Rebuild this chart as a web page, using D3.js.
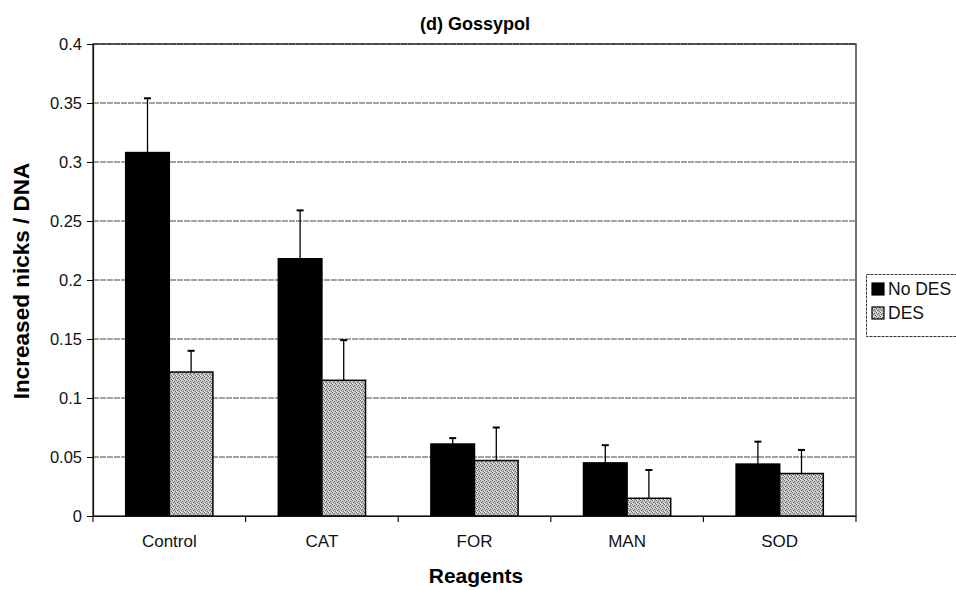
<!DOCTYPE html>
<html><head><meta charset="utf-8">
<script src="https://cdn.jsdelivr.net/npm/d3@7"></script>
<style>body{margin:0;background:#fff}svg{display:block}text{font-family:"Liberation Sans",Arial,sans-serif}</style>
</head><body><svg id="c" width="956" height="590"></svg>
<script>
const categories = ["Control","CAT","FOR","MAN","SOD"];
const seriesNames = ["No DES","DES"];
const noDES = [0.308,0.218,0.061,0.045,0.044];
const noDESerr = [0.046,0.041,0.005,0.015,0.019];
const des = [0.122,0.115,0.047,0.015,0.036];
const desErr = [0.018,0.034,0.028,0.024,0.020];
const yTicks = [0,0.05,0.1,0.15,0.2,0.25,0.3,0.35,0.4];

const svg = d3.select("#c");
const m = {l:93,t:44,r:856,b:516};
const defs = svg.append("defs");
const pat = defs.append("pattern").attr("id","stip").attr("width",4).attr("height",4).attr("patternUnits","userSpaceOnUse");
pat.append("rect").attr("width",4).attr("height",4).attr("fill","#c4c4c4");
[[0,0],[2,1],[1,2],[3,3]].forEach(([x,y])=>pat.append("rect").attr("x",x).attr("y",y).attr("width",1).attr("height",1).attr("fill","#666"));
pat.append("rect").attr("x",1).attr("y",0).attr("width",1).attr("height",1).attr("fill","#eee");
pat.append("rect").attr("x",0).attr("y",3).attr("width",1).attr("height",1).attr("fill","#eee");

const x = d3.scaleBand().domain(categories).range([m.l,m.r]).paddingInner(0).paddingOuter(0);
const xs = d3.scaleBand().domain(seriesNames).range([0,x.bandwidth()]).paddingInner(0).paddingOuter(0.75);
const y = d3.scaleLinear().domain([0,0.4]).range([m.b,m.t]);

// gridlines
svg.append("g").selectAll("line").data(yTicks.slice(1)).join("line")
 .attr("x1",m.l).attr("x2",m.r).attr("y1",d=>y(d)).attr("y2",d=>y(d))
 .attr("stroke","#444").attr("stroke-width",1).attr("stroke-dasharray","6,1");
// plot border
svg.append("rect").attr("x",m.l).attr("y",m.t).attr("width",m.r-m.l).attr("height",m.b-m.t)
 .attr("fill","none").attr("stroke","#111").attr("stroke-width",1.2);

const data = categories.map((c,i)=>[
 {c,s:"No DES",v:noDES[i],e:noDESerr[i]},
 {c,s:"DES",v:des[i],e:desErr[i]}]).flat();

svg.append("g").selectAll("rect").data(data).join("rect")
 .attr("x",d=>x(d.c)+xs(d.s)).attr("width",xs.bandwidth())
 .attr("y",d=>y(d.v)).attr("height",d=>y(0)-y(d.v))
 .attr("fill",d=>d.s==="No DES"?"#000":"url(#stip)").attr("stroke","#000").attr("stroke-width",1.5);

const eb = svg.append("g").attr("stroke","#000").attr("stroke-width",1.3);
data.forEach(d=>{
 const cx = x(d.c)+xs(d.s)+xs.bandwidth()/2;
 eb.append("line").attr("x1",cx).attr("x2",cx).attr("y1",y(d.v)).attr("y2",y(d.v+d.e));
 eb.append("line").attr("x1",cx-3.5).attr("x2",cx+3.5).attr("y1",y(d.v+d.e)).attr("y2",y(d.v+d.e)).attr("stroke-width",2);
});

// axes
const ya = svg.append("g").attr("transform",`translate(${m.l},0)`)
 .call(d3.axisLeft(y).tickValues(yTicks).tickFormat(d=>d3.format("")(+d.toFixed(2))).tickSize(6).tickPadding(5));
ya.select(".domain").attr("stroke","#111").attr("stroke-width",1.2);
ya.selectAll("text").attr("font-size",16.5).attr("fill","#111");
const xa = svg.append("g").attr("transform",`translate(0,${m.b})`)
 .call(d3.axisBottom(x).tickSize(0).tickPadding(19));
xa.select(".domain").attr("stroke","#111").attr("stroke-width",1.2);
xa.selectAll("text").attr("font-size",17).attr("fill","#111");
// category boundary ticks
svg.append("g").selectAll("line").data(d3.range(categories.length+1)).join("line")
 .attr("x1",i=>m.l+i*x.step()).attr("x2",i=>m.l+i*x.step()).attr("y1",m.b).attr("y2",m.b+6)
 .attr("stroke","#111").attr("stroke-width",1.2);

// titles
svg.append("text").attr("x",475).attr("y",30).attr("text-anchor","middle").attr("font-weight","bold").attr("font-size",18).text("(d) Gossypol");
svg.append("text").attr("x",476).attr("y",583).attr("text-anchor","middle").attr("font-weight","bold").attr("font-size",21).text("Reagents");
svg.append("text").attr("transform","translate(29,281) rotate(-90)").attr("text-anchor","middle").attr("font-weight","bold").attr("font-size",22.5).text("Increased nicks / DNA");

// legend
const lg = svg.append("g");
lg.append("rect").attr("x",866.5).attr("y",274.5).attr("width",100).attr("height",62).attr("fill","#fff").attr("stroke","#333").attr("stroke-dasharray","3,1");
seriesNames.forEach((s,i)=>{
 lg.append("rect").attr("x",872).attr("y",283+i*24).attr("width",12).attr("height",12)
  .attr("fill",i===0?"#000":"url(#stip)").attr("stroke","#000").attr("stroke-width",1.2);
 lg.append("text").attr("x",888).attr("y",295+i*24).attr("font-size",17.5).attr("fill","#111").text(s);
});
</script></body></html>
